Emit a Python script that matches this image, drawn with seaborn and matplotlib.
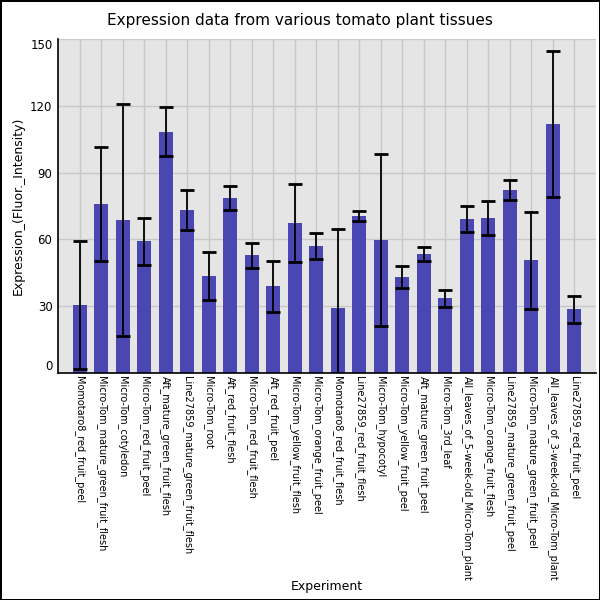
import numpy as np
import pandas as pd
import matplotlib
matplotlib.use("Agg")
import matplotlib.pyplot as plt
import seaborn as sns

experiments = [
    "Momotaro8_red_fruit_peel",
    "Micro-Tom_mature_green_fruit_flesh",
    "Micro-Tom_cotyledon",
    "Micro-Tom_red_fruit_peel",
    "Aft_mature_green_fruit_flesh",
    "Line27859_mature_green_fruit_flesh",
    "Micro-Tom_root",
    "Aft_red_fruit_flesh",
    "Micro-Tom_red_fruit_flesh",
    "Aft_red_fruit_peel",
    "Micro-Tom_yellow_fruit_flesh",
    "Micro-Tom_orange_fruit_peel",
    "Momotaro8_red_fruit_flesh",
    "Line27859_red_fruit_flesh",
    "Micro-Tom_hypocotyl",
    "Micro-Tom_yellow_fruit_peel",
    "Aft_mature_green_fruit_peel",
    "Micro-Tom_3rd_leaf",
    "All_leaves_of_5-week-old_Micro-Tom_plant",
    "Micro-Tom_orange_fruit_flesh",
    "Line27859_mature_green_fruit_peel",
    "Micro-Tom_mature_green_fruit_peel",
    "All_leaves_of_3-week-old_Micro-Tom_plant",
    "Line27859_red_fruit_peel",
]
expression = [30.5, 76.0, 68.7, 59.2, 108.4, 73.2, 43.6, 78.6, 52.9, 39.0, 67.3, 57.0,
              29.2, 70.5, 59.7, 43.0, 53.4, 33.6, 69.1, 69.6, 82.2, 50.7, 111.9, 28.6]
std_err = [28.6, 25.7, 52.0, 10.6, 11.0, 9.2, 10.6, 5.6, 5.6, 11.5, 17.4, 5.9,
           35.3, 2.4, 38.5, 5.0, 3.0, 3.8, 6.0, 7.6, 4.7, 21.8, 32.9, 6.0]

df = pd.DataFrame({"Experiment": experiments, "Expression": expression, "err": std_err})

sns.set_style("darkgrid", {"axes.facecolor": "#e5e5e5", "grid.color": "#c8c8c8"})
plt.rcParams["font.family"] = ["DejaVu Sans"]
plt.rcParams["text.color"] = "black"
plt.rcParams["axes.labelcolor"] = "black"
plt.rcParams["xtick.color"] = "black"
plt.rcParams["ytick.color"] = "black"

fig = plt.figure(figsize=(6, 6), dpi=100)
fig.patch.set_edgecolor("black")
fig.patch.set_linewidth(2)
ax = fig.add_axes([58 / 600, 1 - 373 / 600, 538 / 600, 334 / 600])

sns.barplot(data=df, x="Experiment", y="Expression", color="#4b47b2",
            saturation=1, width=0.65, linewidth=0, ax=ax)
ax.errorbar(df["Experiment"], df["Expression"], yerr=df["err"], fmt="none",
            ecolor="black", elinewidth=1.3, capsize=4.7, capthick=2, zorder=3)

ax.set_xlim(-1, 24)
ax.set_ylim(0, 150)
ax.set_yticks([0, 30, 60, 90, 120, 150])
ax.grid(True, color="#c8c8c8", linewidth=1)
ax.set_axisbelow(True)
for s in ["top", "right"]:
    ax.spines[s].set_visible(False)
for s in ["left", "bottom"]:
    ax.spines[s].set_visible(True)
    ax.spines[s].set_color("black")
    ax.spines[s].set_linewidth(1.2)

ax.tick_params(axis="y", length=0, pad=4, labelsize=8.5)
ax.tick_params(axis="x", length=0, pad=2, labelsize=7)
plt.setp(ax.get_xticklabels(), rotation=270, ha="center", va="top")
ylabels = ax.get_yticklabels()
ylabels[0].set_va("bottom")
ylabels[-1].set_va("top")

ax.set_xlabel("Experiment", fontsize=9)
ax.set_ylabel("Expression_(Fluor._Intensity)", fontsize=9)
ax.xaxis.set_label_coords(0.5, -0.62)
ax.yaxis.set_label_coords(-0.062, 0.5)

fig.suptitle("Expression data from various tomato plant tissues", fontsize=11,
             y=1 - 21 / 600, va="center")

fig.savefig("out.png", dpi=100)
